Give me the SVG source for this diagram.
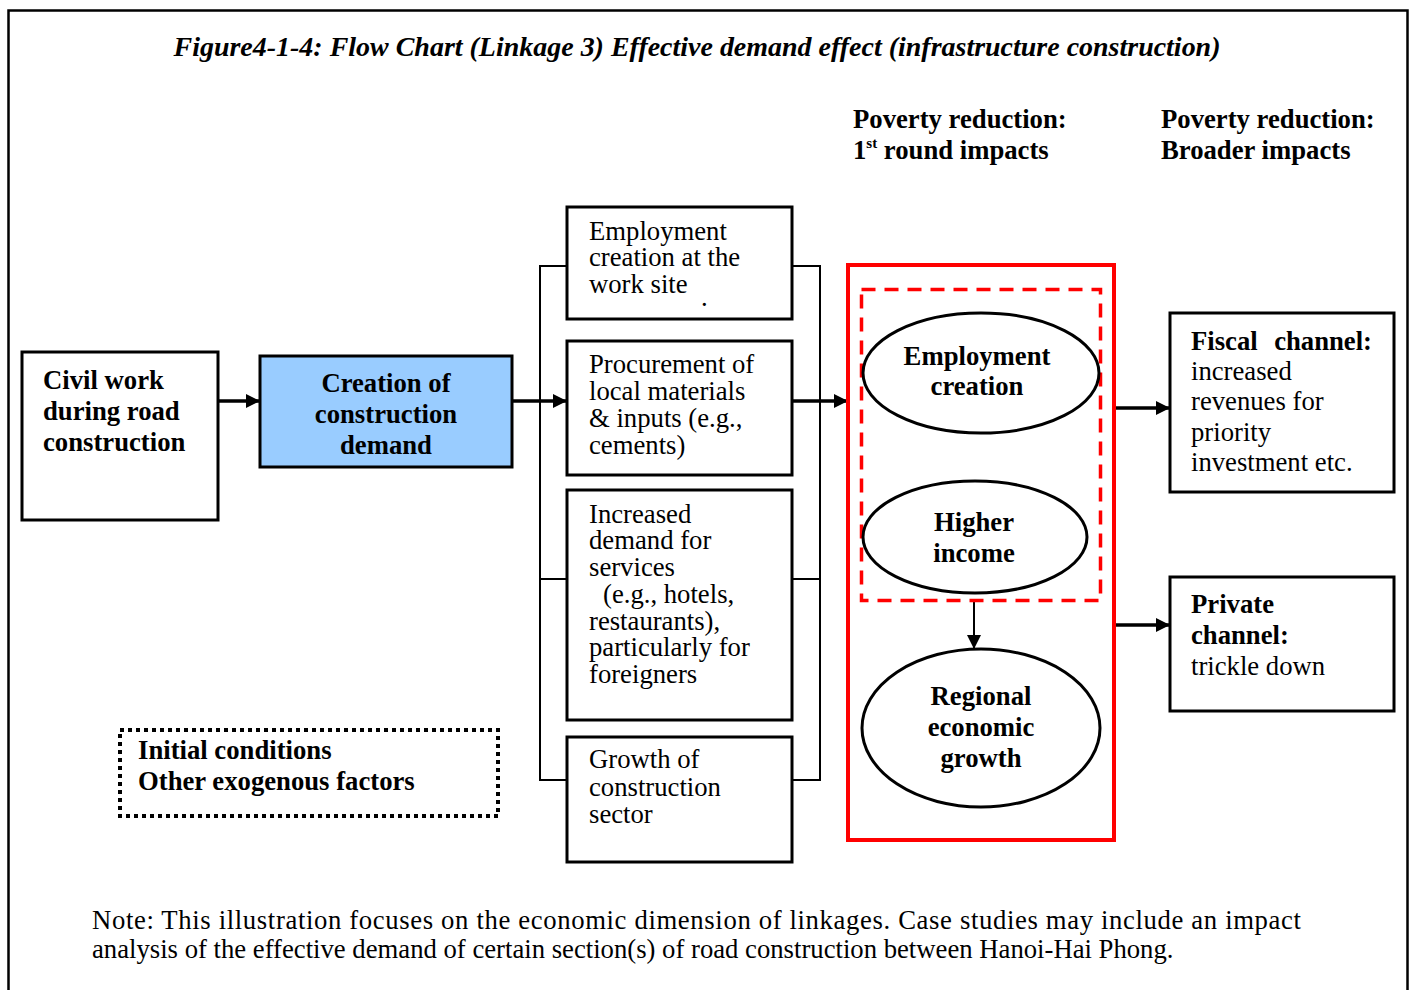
<svg xmlns="http://www.w3.org/2000/svg" width="1414" height="990" viewBox="0 0 1414 990">
<style>
text{font-family:"Liberation Serif","Times New Roman",serif;font-size:26.7px;fill:#000}
.b{font-weight:bold}
.c{text-anchor:middle}
.box{fill:#fff;stroke:#000;stroke-width:3}
.br{fill:none;stroke:#000;stroke-width:2}
.ar{fill:none;stroke:#000;stroke-width:3.5}
.el{fill:none;stroke:#000;stroke-width:3}
</style>
<defs>
<marker id="ah" markerUnits="userSpaceOnUse" markerWidth="16" markerHeight="16" refX="14" refY="7" orient="auto">
<path d="M0,0 L14,7 L0,14 Z" fill="#000"/>
</marker>
</defs>
<rect width="1414" height="990" fill="#fff"/>
<rect x="8.5" y="10.5" width="1399" height="1000" fill="none" stroke="#000" stroke-width="2.5"/>

<text class="b c" x="697" y="56" font-style="italic" textLength="1047" lengthAdjust="spacingAndGlyphs">Figure4-1-4: Flow Chart (Linkage 3) Effective demand effect (infrastructure construction)</text>

<g id="hdr1"><text class="b" x="853" y="128">Poverty reduction:</text>
<text class="b" x="853" y="159">1<tspan font-size="15" dy="-11">st</tspan><tspan dy="11"> round impacts</tspan></text></g>
<g id="hdr2"><text class="b" x="1161" y="128">Poverty reduction:</text>
<text class="b" x="1161" y="159">Broader impacts</text></g>

<g id="connectors">
<path class="br" d="M567,266 H540 V780 H567 M540,579 H567"/>
<path class="br" d="M792,266 H820 V780 H792 M792,579 H820"/>
<line class="ar" x1="218" y1="401" x2="260" y2="401" marker-end="url(#ah)"/>
<line class="ar" x1="512" y1="401" x2="567" y2="401" marker-end="url(#ah)"/>
<line class="ar" x1="792" y1="401" x2="848" y2="401" marker-end="url(#ah)"/>
<line class="ar" x1="1114" y1="408" x2="1170" y2="408" marker-end="url(#ah)"/>
<line class="ar" x1="1114" y1="625" x2="1170" y2="625" marker-end="url(#ah)"/>
<line x1="974" y1="601" x2="974" y2="649" stroke="#000" stroke-width="2" marker-end="url(#ah)"/>
</g>

<g id="civil"><rect class="box" x="22" y="352" width="196" height="168"/>
<text class="b" x="43" y="389">Civil work</text>
<text class="b" x="43" y="420">during road</text>
<text class="b" x="43" y="451">construction</text></g>

<g id="creation"><rect x="260" y="356" width="252" height="111" fill="#99CCFF" stroke="#000" stroke-width="3"/>
<text class="b c" x="386" y="392">Creation of</text>
<text class="b c" x="386" y="423">construction</text>
<text class="b c" x="386" y="454">demand</text></g>

<g id="m1"><rect class="box" x="567" y="207" width="225" height="112"/>
<text x="589" y="240">Employment</text>
<text x="589" y="266">creation at the</text>
<text x="589" y="293">work site</text>
<text x="701" y="306" font-size="12">.</text></g>

<g id="m2"><rect class="box" x="567" y="341" width="225" height="134"/>
<text x="589" y="373">Procurement of</text>
<text x="589" y="400">local materials</text>
<text x="589" y="427">&amp; inputs (e.g.,</text>
<text x="589" y="454">cements)</text></g>

<g id="m3"><rect class="box" x="567" y="490" width="225" height="230"/>
<text x="589" y="523">Increased</text>
<text x="589" y="549">demand for</text>
<text x="589" y="576">services</text>
<text x="603" y="603">(e.g., hotels,</text>
<text x="589" y="630">restaurants),</text>
<text x="589" y="656">particularly for</text>
<text x="589" y="683">foreigners</text></g>

<g id="m4"><rect class="box" x="567" y="737" width="225" height="125"/>
<text x="589" y="768">Growth of</text>
<text x="589" y="796">construction</text>
<text x="589" y="823">sector</text></g>

<g id="redbox"><rect x="848" y="265" width="266" height="575" fill="none" stroke="#FF0000" stroke-width="4"/>
<rect x="861.5" y="289.5" width="239" height="311" fill="none" stroke="#FF0000" stroke-width="3.5" stroke-dasharray="14,9"/></g>

<g id="e1"><ellipse class="el" cx="981" cy="373" rx="118" ry="60"/>
<text class="b c" x="977" y="365">Employment</text>
<text class="b c" x="977" y="395">creation</text></g>

<g id="e2"><ellipse class="el" cx="975" cy="537" rx="112" ry="56"/>
<text class="b c" x="974" y="531">Higher</text>
<text class="b c" x="974" y="562">income</text></g>

<g id="e3"><ellipse class="el" cx="981" cy="728" rx="119" ry="79"/>
<text class="b c" x="981" y="705">Regional</text>
<text class="b c" x="981" y="736">economic</text>
<text class="b c" x="981" y="767">growth</text></g>

<g id="fiscal"><rect class="box" x="1170" y="313" width="224" height="179"/>
<text class="b" x="1191" y="350">Fiscal</text>
<text class="b" x="1372" y="350" text-anchor="end">channel:</text>
<text x="1191" y="380">increased</text>
<text x="1191" y="410">revenues for</text>
<text x="1191" y="441">priority</text>
<text x="1191" y="471">investment etc.</text></g>

<g id="private"><rect class="box" x="1170" y="577" width="224" height="134"/>
<text class="b" x="1191" y="613">Private</text>
<text class="b" x="1191" y="644">channel:</text>
<text x="1191" y="675">trickle down</text></g>

<g id="initial"><rect x="120" y="730" width="378" height="86" fill="none" stroke="#000" stroke-width="4" stroke-dasharray="4,4"/>
<text class="b" x="138" y="759">Initial conditions</text>
<text class="b" x="138" y="790">Other exogenous factors</text></g>

<g id="note">
<text x="92" y="929" textLength="1209" lengthAdjust="spacing">Note: This illustration focuses on the economic dimension of linkages. Case studies may include an impact</text>
<text x="92" y="958">analysis of the effective demand of certain section(s) of road construction between Hanoi-Hai Phong.</text>
</g>
</svg>
